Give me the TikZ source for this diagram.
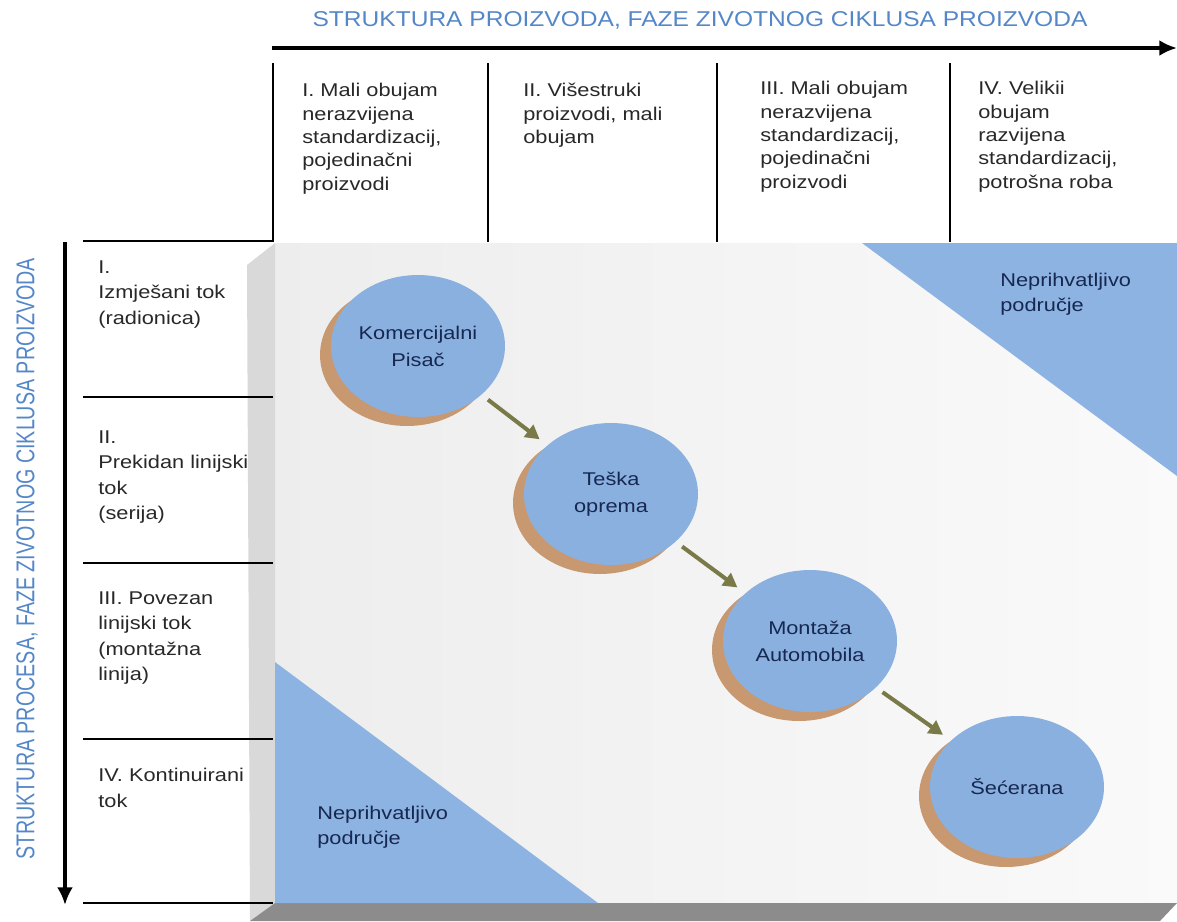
\documentclass[tikz,border=0pt]{standalone}
\usepackage{fontspec}
\usepackage{graphicx}
\setmainfont{Liberation Sans}
\newfontfamily\lblfont[FakeStretch=1.18]{Liberation Sans}
\usepackage{tikz}
\usetikzlibrary{arrows.meta,shapes.geometric,shadows}
\definecolor{axisblue}{RGB}{84,135,200}
\definecolor{zoneblue}{RGB}{141,179,226}
\definecolor{discblue}{RGB}{138,176,224}
\definecolor{discbrown}{RGB}{200,152,112}
\definecolor{flowolive}{RGB}{122,122,72}
\definecolor{txtnavy}{RGB}{23,40,80}
\definecolor{txtgray}{RGB}{40,40,40}

\begin{document}
\begin{tikzpicture}[x=0.02cm,y=-0.02cm,
  proc/.style={ellipse,fill=discblue,minimum width=3.48cm,minimum height=2.84cm,inner sep=0pt,
    drop shadow={shadow xshift=-0.22cm,shadow yshift=-0.18cm,fill=discbrown,opacity=1},
    align=center,text=txtnavy,font={\lblfont\fontsize{10.5}{15.3}\selectfont}},
  flow/.style={-{Triangle[length=8pt,width=8.5pt]},line width=2.3pt,flowolive,shorten <=4.5pt,shorten >=5.5pt},
  hdr/.style={anchor=north west,align=left,inner sep=0pt,text=txtgray,font={\lblfont\fontsize{10.5}{13.3}\selectfont}},
  rowlbl/.style={hdr,font={\lblfont\fontsize{10.5}{14.5}\selectfont}},
  zonelbl/.style={hdr,text=txtnavy,font={\lblfont\fontsize{10.5}{14.2}\selectfont}},
  rule/.style={line width=1.5pt}]
\useasboundingbox (0,0) rectangle (1177,921);

\shade[left color=black!7,right color=black!2] (275,243) rectangle (1177,903);
\fill[black!15] (247,265) -- (275,243) -- (275,903) -- (250,921) -- cycle;
\fill[black!45] (275,903) -- (1177,903) -- (1160,921) -- (250,921) -- cycle;
\fill[zoneblue] (862,243) -- (1177,243) -- (1177,476) -- cycle;
\fill[zoneblue] (275,662) -- (275,903) -- (598,903) -- cycle;

\node[text=axisblue] (ttop) at (700,20) {\resizebox{15.5cm}{0.3cm}{STRUKTURA PROIZVODA, FAZE ZIVOTNOG CIKLUSA PROIZVODA}};
\node[text=axisblue,rotate=90] (tleft) at (27,559) {\resizebox{12.04cm}{0.36cm}{STRUKTURA PROCESA, FAZE ZIVOTNOG CIKLUSA PROIZVODA}};

\draw[-{Latex[length=10pt,width=9pt]},line width=2.2pt] (272,48) -- (1177,48);
\draw[-{Latex[length=10pt,width=9pt]},line width=2.2pt] (65,242) -- (65,905);

\draw[rule] (273,63) -- (273,241) -- (83,241);
\draw[rule] (488,63) -- (488,242);
\draw[rule] (717,63) -- (717,242);
\draw[rule] (950,63) -- (950,242);
\foreach \y in {397,563,739,903}
  \draw[rule] (83,\y) -- (273,\y);

\node[hdr] (c1) at (302,83) {I. Mali obujam\\nerazvijena\\standardizacij,\\pojedinačni\\proizvodi};
\node[hdr] (c2) at (523,83) {II. Višestruki\\proizvodi, mali\\obujam};
\node[hdr] (c3) at (760,81) {III. Mali obujam\\nerazvijena\\standardizacij,\\pojedinačni\\proizvodi};
\node[hdr] (c4) at (978,81) {IV. Velikii\\obujam\\razvijena\\standardizacij,\\potrošna roba};

\node[rowlbl] (r1) at (98,260) {I.\\Izmješani tok\\(radionica)};
\node[rowlbl] (r2) at (98,430) {II.\\Prekidan linijski\\tok\\(serija)};
\node[rowlbl] (r3) at (98,591) {III. Povezan\\linijski tok\\(montažna\\linija)};
\node[rowlbl] (r4) at (98,768) {IV. Kontinuirani\\tok};

\node[zonelbl] (ztop) at (1000,273) {Neprihvatljivo\\područje};
\node[zonelbl] (zbot) at (317,806) {Neprihvatljivo\\područje};

\node[proc] (pisac) at (418,346) {Komercijalni\\Pisač};
\node[proc] (oprema) at (611,494) {Teška\\oprema};
\node[proc] (montaza) at (810,641) {Montaža\\Automobila};
\node[proc] (secerana) at (1017,787) {Šećerana};

\draw[flow] (pisac) -- (oprema);
\draw[flow] (oprema) -- (montaza);
\draw[flow] (montaza) -- (secerana);
\end{tikzpicture}
\end{document}
